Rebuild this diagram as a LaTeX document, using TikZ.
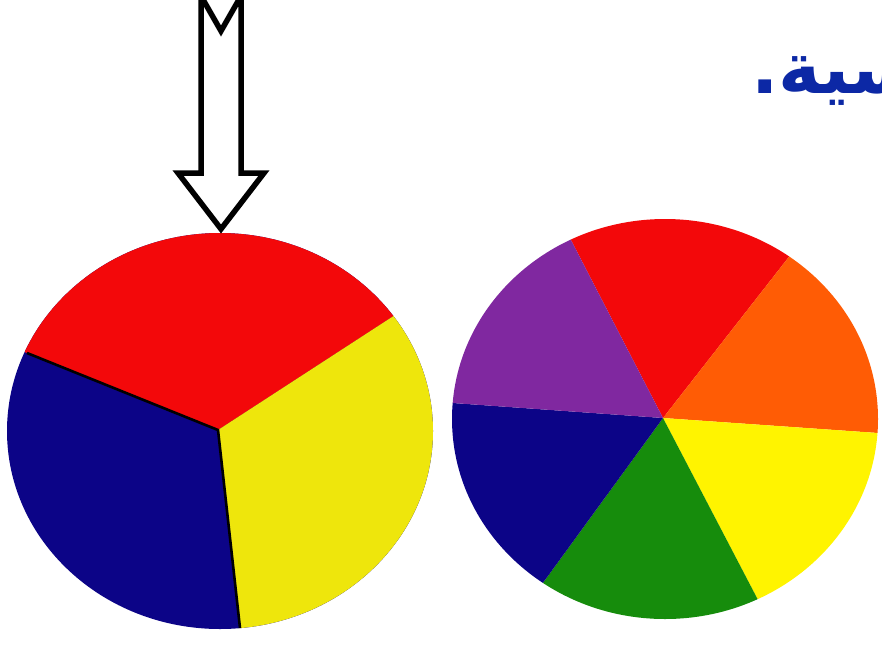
\documentclass[tikz,border=0pt]{standalone}
\usepackage{fontspec}
\usetikzlibrary{calc}
\TeXXeTstate=1
\newfontfamily\arabicfont[Script=Arabic]{DejaVu Sans}
\definecolor{cred}{RGB}{243,8,10}
\definecolor{cyellowL}{RGB}{238,230,12}
\definecolor{cyellowR}{RGB}{255,244,0}
\definecolor{cblue}{RGB}{12,4,135}
\definecolor{corange}{RGB}{255,92,5}
\definecolor{cgreen}{RGB}{22,140,12}
\definecolor{cpurple}{RGB}{128,40,160}
\definecolor{tblue}{RGB}{12,40,165}
\tikzset{
  divider/.style={line width=2.6pt, black},
  hollowarrow/.style={line width=5.5pt, miter limit=12, draw=black, fill=white}
}
\begin{document}
\begin{tikzpicture}[x=1pt,y=-1pt]
\useasboundingbox (0,0) rectangle (882,646);
\clip (0,0) rectangle (882,646);
\fill[white] (0,0) rectangle (882,646);
% ---------- left wheel (3 colours)
\coordinate (Lc) at (218,430);
\coordinate (La) at (27,353);
\coordinate (Lb) at (392,317);
\coordinate (Ld) at (240,628);
\begin{scope}
  \clip (220,431) ellipse [x radius=213pt, y radius=198pt];
  \fill[cblue] (220,431) ellipse [x radius=214pt, y radius=199pt];
  \fill[cred] (Lc) -- ($(Lc)!4!(La)$) -- (218,-600) -- ($(Lc)!4!(Lb)$) -- cycle;
  \fill[cyellowL] (Lc) -- ($(Lc)!4!(Lb)$) -- (1100,700) -- ($(Lc)!4!(Ld)$) -- cycle;
  \draw[divider] (La) -- (Lc) -- (Ld);
\end{scope}
% ---------- right wheel (6 colours)
\coordinate (Rc) at (663,418);
\coordinate (P1) at (572,242);
\coordinate (P2) at (788,258);
\coordinate (P3) at (878,433);
\coordinate (P4) at (757,598);
\coordinate (P5) at (545,580);
\coordinate (P6) at (453,403);
\begin{scope}
  \clip (665,419) ellipse [x radius=213pt, y radius=200pt];
  \fill[cred]     (Rc) -- ($(Rc)!4!(P1)$) -- ($(Rc)!4!(P2)$) -- cycle;
  \fill[corange]  (Rc) -- ($(Rc)!4!(P2)$) -- ($(Rc)!4!(P3)$) -- cycle;
  \fill[cyellowR] (Rc) -- ($(Rc)!4!(P3)$) -- ($(Rc)!4!(P4)$) -- cycle;
  \fill[cgreen]   (Rc) -- ($(Rc)!4!(P4)$) -- ($(Rc)!4!(P5)$) -- cycle;
  \fill[cblue]    (Rc) -- ($(Rc)!4!(P5)$) -- ($(Rc)!4!(P6)$) -- cycle;
  \fill[cpurple]  (Rc) -- ($(Rc)!4!(P6)$) -- ($(Rc)!4!(P1)$) -- cycle;
\end{scope}
% ---------- hollow arrow
\draw[hollowarrow] (201,-4) -- (221,31) -- (241,-4) -- (241,173) -- (264,173)
  -- (221,229) -- (178,173) -- (201,173) -- cycle;
% ---------- text (cut by the right edge, as in the reference)
\node[anchor=base west, inner sep=0pt, text=tblue,
      font=\arabicfont\bfseries\fontsize{72}{76}\selectfont] (txt) at (751,93)
      {\beginR سية.\endR};
\end{tikzpicture}
\end{document}
